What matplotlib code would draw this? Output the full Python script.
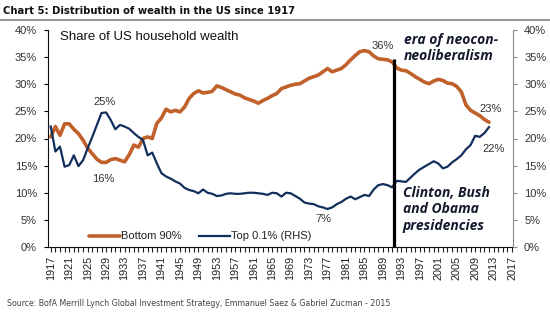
import numpy as np
import matplotlib
matplotlib.use('Agg')
import matplotlib.pyplot as plt

plt.rcParams['font.family'] = ['Liberation Sans', 'DejaVu Sans']

years = list(range(1917, 2013))

# share of US household wealth, %
bottom90 = [20.3, 22.2, 20.6, 22.7, 22.7, 21.7, 20.9, 19.7, 18.2, 17.2,
            16.2, 15.6, 15.6, 16.1, 16.3, 16.0, 15.7, 17.0, 18.8, 18.4,
            20.0, 20.3, 20.0, 22.8, 23.8, 25.4, 24.9, 25.2, 24.9, 25.8,
            27.4, 28.3, 28.8, 28.4, 28.5, 28.7, 29.7, 29.4, 29.0, 28.6,
            28.2, 28.0, 27.5, 27.2, 26.9, 26.5, 27.0, 27.4, 27.9, 28.3,
            29.2, 29.5, 29.8, 30.0, 30.1, 30.6, 31.1, 31.4, 31.7, 32.3,
            32.9, 32.3, 32.6, 32.9, 33.6, 34.5, 35.3, 36.0, 36.2, 36.0,
            35.2, 34.7, 34.6, 34.5, 34.1, 33.0, 32.6, 32.5, 32.0, 31.4,
            30.9, 30.4, 30.1, 30.6, 30.9, 30.7, 30.2, 30.1, 29.6, 28.6,
            26.2, 25.2, 24.7, 24.2, 23.5, 23.0]

top01 = [22.2, 17.6, 18.5, 14.8, 15.1, 16.9, 14.9, 16.0, 18.2, 20.3,
         22.5, 24.7, 24.8, 23.4, 21.7, 22.5, 22.2, 21.8, 21.0, 20.3,
         19.7, 16.9, 17.4, 15.4, 13.6, 13.0, 12.6, 12.1, 11.7, 10.9,
         10.5, 10.3, 9.9, 10.6, 10.0, 9.8, 9.4, 9.5, 9.8, 9.9,
         9.8, 9.8, 9.9, 10.0, 10.0, 9.9, 9.8, 9.6, 10.0, 9.9,
         9.3, 10.0, 9.9, 9.4, 8.9, 8.2, 8.0, 7.9, 7.5, 7.3,
         7.0, 7.3, 7.9, 8.3, 8.9, 9.3, 8.8, 9.2, 9.6, 9.4,
         10.6, 11.4, 11.6, 11.4, 11.0, 12.2, 12.1, 12.0, 12.8, 13.6,
         14.3, 14.8, 15.3, 15.8, 15.4, 14.5, 14.8, 15.6, 16.2, 16.9,
         18.0, 18.8, 20.5, 20.3, 21.0, 22.1]

tick_years = list(range(1917, 2018, 4))
pct_ticks = [0, 5, 10, 15, 20, 25, 30, 35, 40]

orange = '#C0602A'
navy = '#112E5C'
txt = '#333333'

fig = plt.figure(figsize=(5.5, 3.22), dpi=100)
ax = fig.add_axes([48/550, 1-247/322, (513-48)/550, (247-30)/322])
ax2 = ax.twinx()

ax.plot(years, bottom90, color=orange, lw=2.6, solid_capstyle='round', label='Bottom 90%')
ax2.plot(years, top01, color=navy, lw=1.6, label='Top 0.1% (RHS)')

for a in (ax, ax2):
    a.set_ylim(0, 40)
    a.set_xlim(1916.4, 2017.2)
    a.spines['top'].set_visible(False)

ax.set_yticks(pct_ticks)
ax.set_yticklabels(['%d%%' % v for v in pct_ticks])
ax2.set_yticks(pct_ticks)
ax2.set_yticklabels(['%d%%' % v for v in pct_ticks])

ax.set_xticks(tick_years)
ax.set_xticklabels([str(y) for y in tick_years], rotation=90)
ax.set_xticks(range(1917, 2018), minor=True)
ax.tick_params(axis='x', which='both', direction='out', length=3.5, width=0.8,
               labelsize=7.8, colors='#222222', pad=3)
ax.tick_params(axis='y', direction='out', length=3, width=0.8, labelsize=8,
               labelcolor=txt, pad=5)
ax2.tick_params(axis='y', direction='out', length=3, width=0.8, labelsize=8,
                labelcolor=txt, color='#888888', pad=5)
ax.spines['left'].set_color('#111111')
ax.spines['bottom'].set_color('#111111')
ax2.spines['right'].set_color('#888888')
ax2.spines['left'].set_visible(False)
ax2.spines['bottom'].set_visible(False)
ax.spines['right'].set_visible(False)

# era divider
ax2.plot([1991.3, 1991.3], [0, 34.6], color='black', lw=2.3, solid_capstyle='butt')

# labels at extremes and ends
b = np.array(bottom90)
t = np.array(top01)
yr = np.array(years)
lbl = dict(fontsize=8, color=txt, ha='center', va='center')
i = b.argmin()
ax.text(yr[i] + 0.3, b[i] - 3.0, '%d%%' % round(b[i]), **lbl)
i = b.argmax()
ax.text(yr[i] + 4.0, b[i] + 0.9, '%d%%' % round(b[i]), **lbl)
ax.text(yr[-1] + 0.3, b[-1] + 2.4, '%d%%' % round(b[-1]), **lbl)
i = t.argmax()
ax2.text(yr[i] - 0.4, t[i] + 1.9, '%d%%' % round(t[i]), **lbl)
i = t.argmin()
ax2.text(yr[i] - 1.0, t[i] - 1.8, '%d%%' % round(t[i]), **lbl)
ax2.text(yr[-1] + 1.0, t[-1] - 4.1, '%d%%' % round(t[-1]), **lbl)

ax.text(1919.0, 38.7, 'Share of US household wealth', fontsize=9.5,
        color='#111111', ha='left', va='center')

note = dict(fontsize=10, fontweight='bold', fontstyle='italic', color='#141a2e',
            ha='left', va='top', family=['Open Sans', 'DejaVu Sans'], linespacing=1.2)
ax2.text(1993.5, 39.4, 'era of neocon-\nneoliberalism', **note)
ax2.text(1993.3, 11.2, 'Clinton, Bush\nand Obama\npresidencies', **note)

h1, l1 = ax.get_legend_handles_labels()
h2, l2 = ax2.get_legend_handles_labels()
leg = ax.legend(h1 + h2, l1 + l2, loc='lower left', bbox_to_anchor=(0.072, -0.01),
                ncol=2, frameon=False, fontsize=8, handlelength=2.8,
                handletextpad=0.1, columnspacing=1.5, borderaxespad=0.3)
for s in leg.get_texts():
    s.set_color('#222222')

fig.text(3/550, 1-11/322, 'Chart 5: Distribution of wealth in the US since 1917',
         fontsize=8, fontweight='bold', color='#111111', ha='left', va='center',
         family='DejaVu Sans', fontstretch='condensed')
fig.add_artist(plt.Line2D([0, 1], [1-20/322, 1-20/322], color='#999999', lw=1.5))

fig.text(7/550, 1-304/322,
         'Source: BofA Merrill Lynch Global Investment Strategy, Emmanuel Saez & Gabriel Zucman - 2015',
         fontsize=6.3, color='#444444', ha='left', va='center',
         family='DejaVu Sans', fontstretch='condensed')

fig.savefig('out.png', dpi=100)
